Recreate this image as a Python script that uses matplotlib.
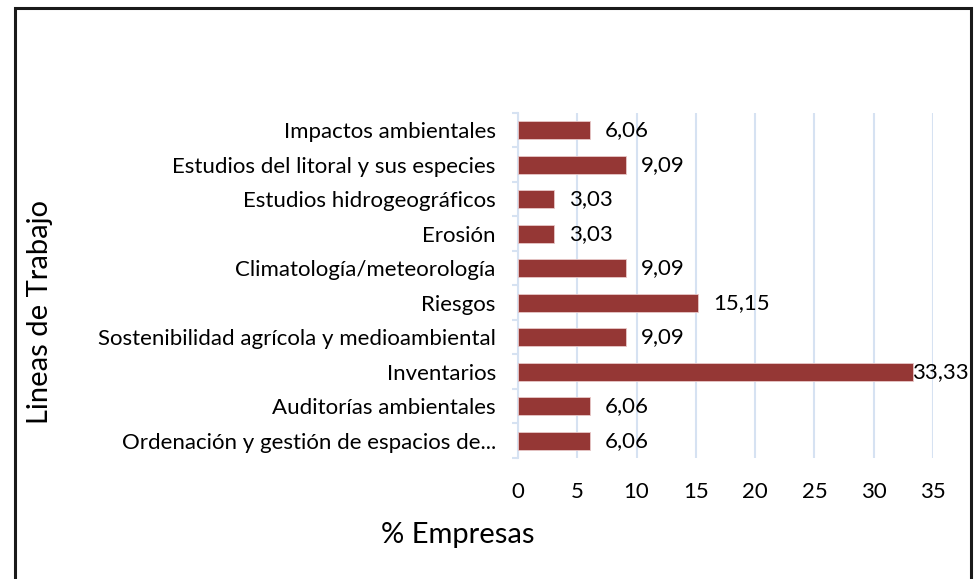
import matplotlib.pyplot as plt
from matplotlib.patches import Rectangle
from matplotlib.ticker import FixedLocator

plt.rcParams['font.family'] = ['Lato', 'DejaVu Sans']

# categories listed bottom to top
lineas = [
    "Ordenación y gestión de espacios de...",
    "Auditorías ambientales",
    "Inventarios",
    "Sostenibilidad agrícola y medioambiental",
    "Riesgos",
    "Climatología/meteorología",
    "Erosión",
    "Estudios hidrogeográficos",
    "Estudios del litoral y sus especies",
    "Impactos ambientales",
]
empresas = [6.06, 6.06, 33.33, 9.09, 15.15, 9.09, 3.03, 3.03, 9.09, 6.06]
x_ticks = [0, 5, 10, 15, 20, 25, 30, 35]

bar_color = "#953735"
grid_color = "#d6e2f2"


def main():
    fig = plt.figure(figsize=(9.74, 5.79), dpi=100)
    ax = fig.add_axes([0.5318, 0.2090, 0.4261, 0.5959])

    pos = list(range(len(lineas)))
    ax.barh(pos, empresas, height=0.52, color=bar_color,
            edgecolor="#e8c8c8", linewidth=0.6, zorder=3)

    for y, v in zip(pos, empresas):
        txt = f"{v:.2f}".replace(".", ",")
        off = -1 if v > 30 else 11
        ax.annotate(txt, (v, y), xytext=(off, 0), textcoords="offset points",
                    va="center", ha="left", fontsize=16, zorder=4)

    ax.set_xlim(0, 35)
    ax.set_ylim(-0.5, len(lineas) - 0.5)
    ax.set_xticks(x_ticks)
    ax.set_yticks(pos)
    ax.set_yticklabels(lineas)
    ax.yaxis.set_minor_locator(FixedLocator([p - 0.5 for p in pos] + [pos[-1] + 0.5]))

    ax.grid(axis="x", color=grid_color, linewidth=1.5, zorder=0)
    for s in ["top", "right", "bottom"]:
        ax.spines[s].set_visible(False)
    ax.spines["left"].set_color(grid_color)
    ax.spines["left"].set_linewidth(1.5)

    ax.tick_params(axis="y", which="major", length=0, pad=16, labelsize=16)
    ax.tick_params(axis="y", which="minor", length=4, width=1.5, color=grid_color)
    ax.tick_params(axis="x", length=0, pad=17, labelsize=16)

    fig.text(0.470, 0.076, "% Empresas", ha="center", va="center", fontsize=21)
    fig.text(0.041, 0.461, "Lineas de Trabajo", ha="center", va="center",
             rotation=90, fontsize=21)

    # outer chart frame (bottom edge falls outside the picture)
    fig.patches.append(Rectangle((0.0150, -0.05), 0.9815, 1.036,
                                 transform=fig.transFigure, fill=False,
                                 edgecolor="#1a1a1a", linewidth=2.2))

    fig.savefig("out.png", dpi=100)


if __name__ == "__main__":
    main()
